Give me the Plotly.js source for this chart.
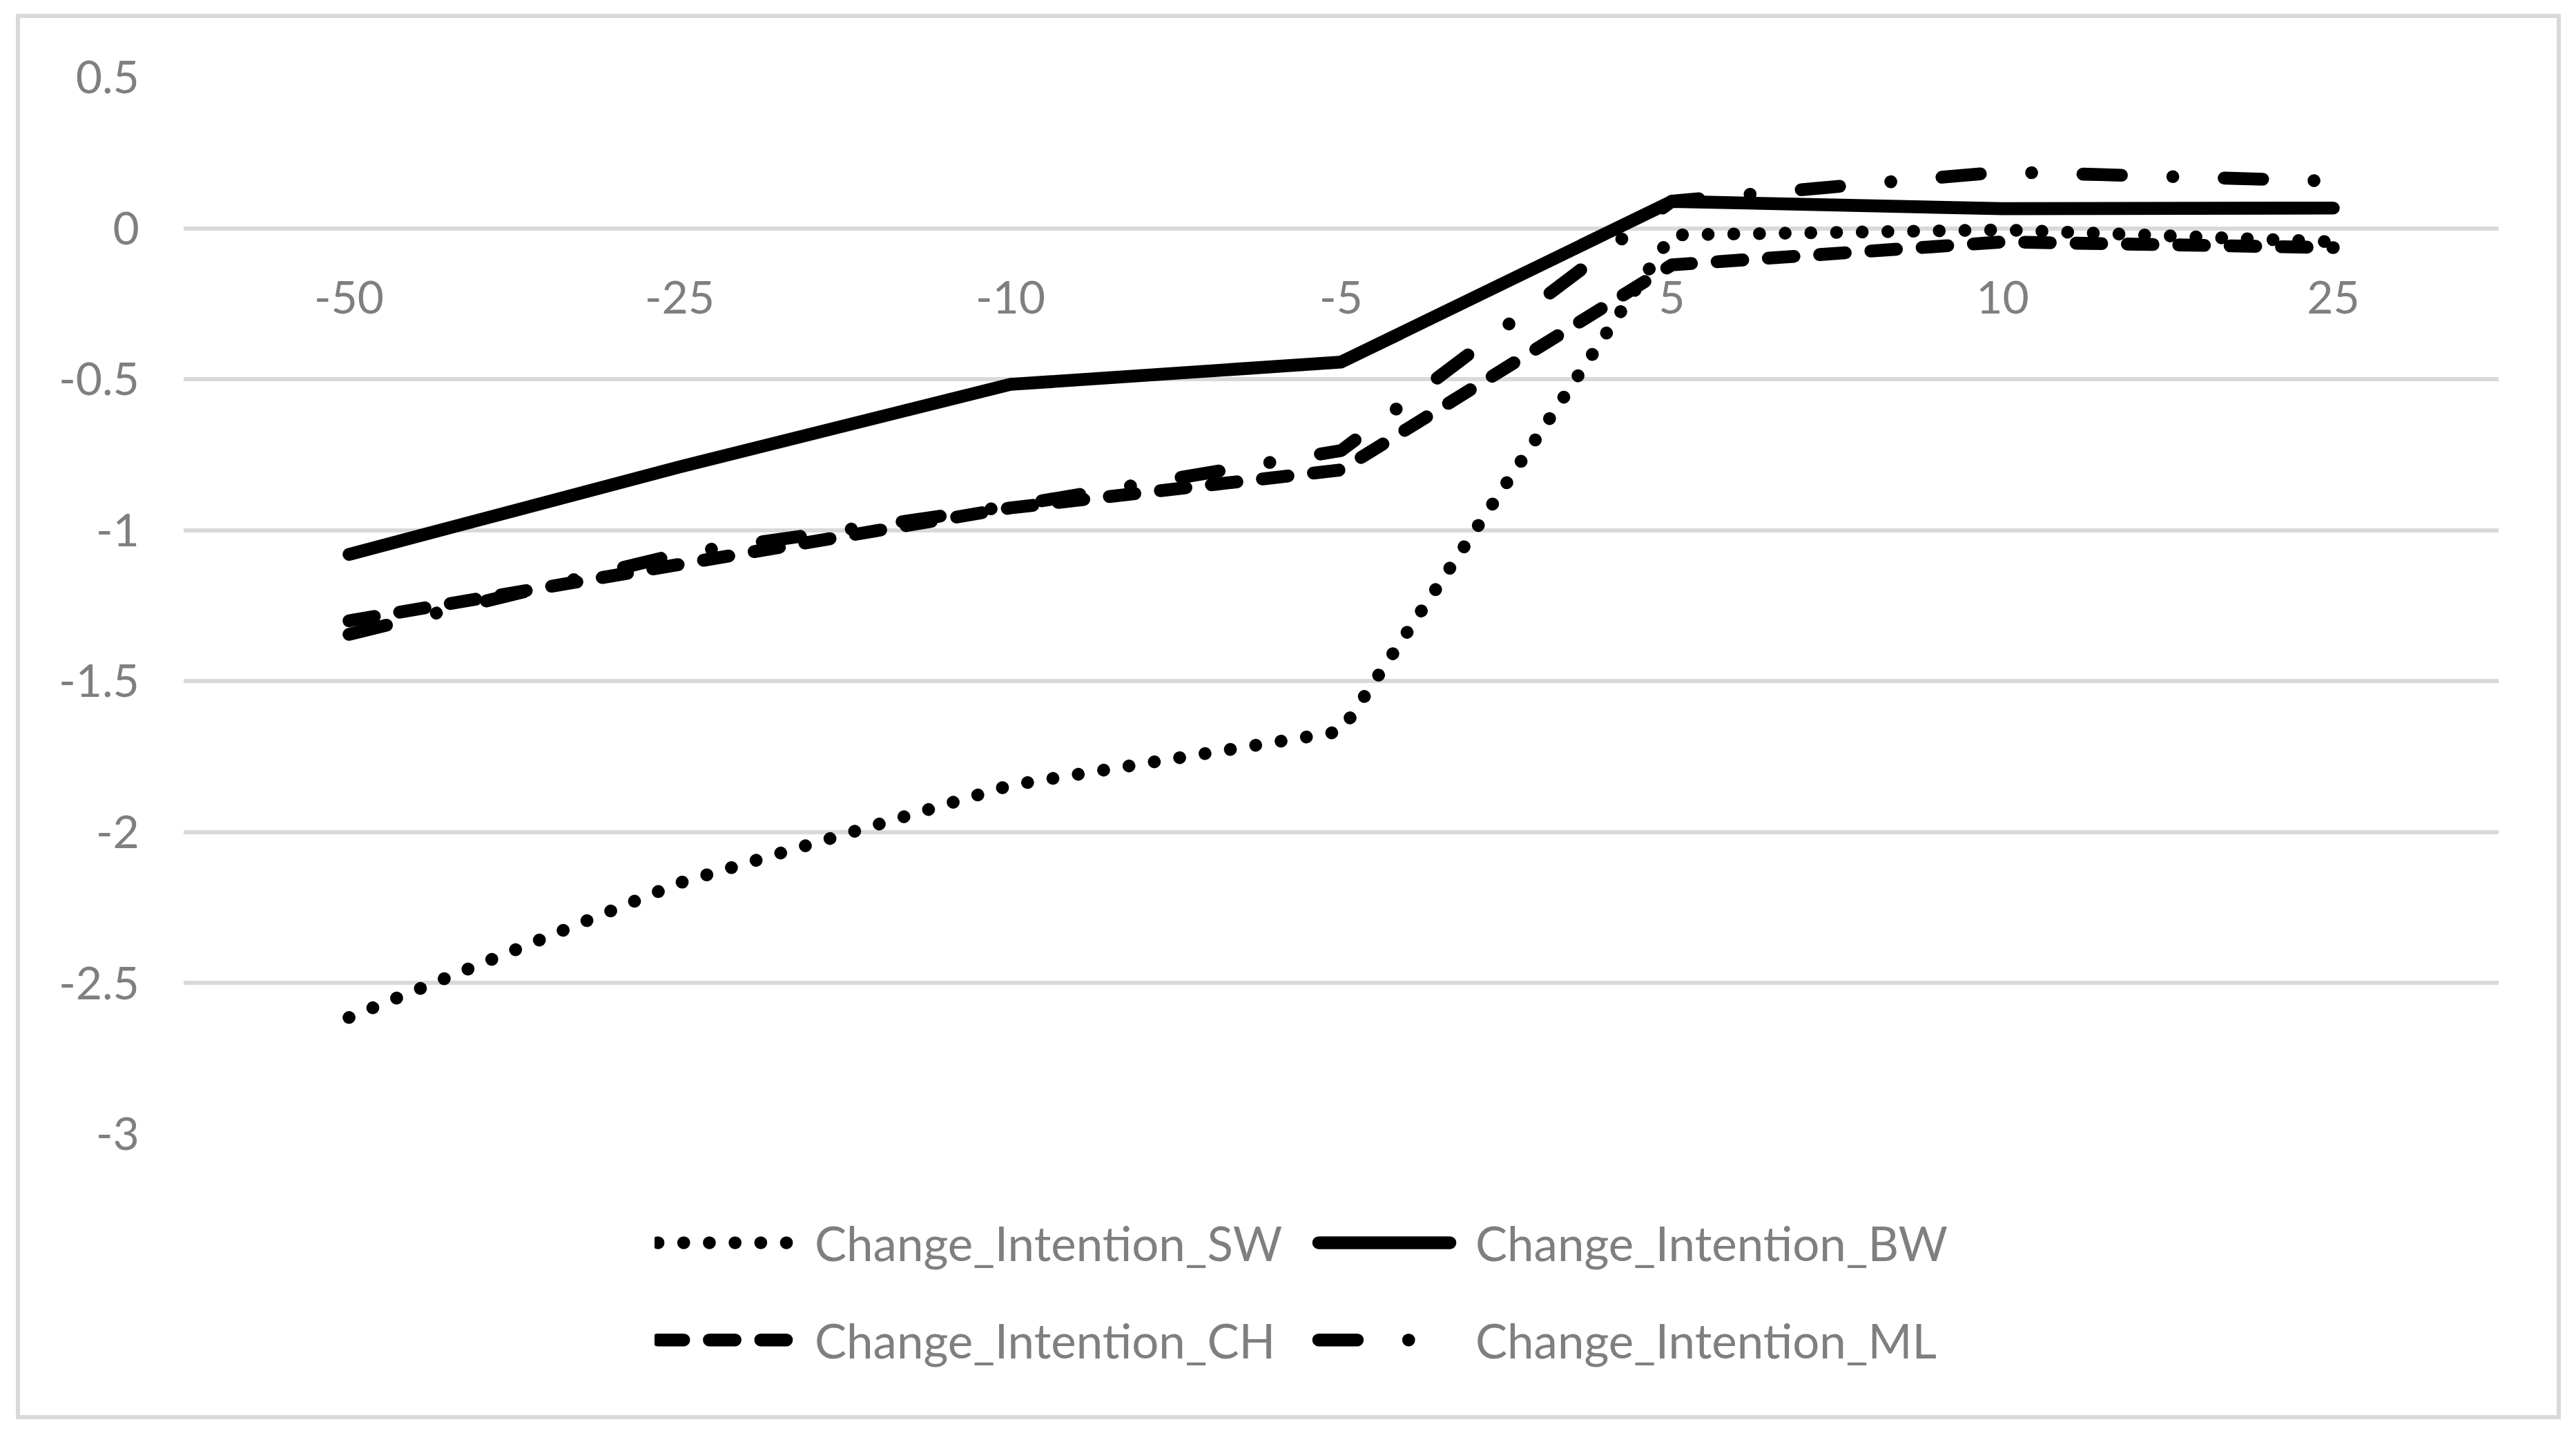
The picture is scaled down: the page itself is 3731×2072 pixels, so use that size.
<!DOCTYPE html>
<html><head><meta charset="utf-8">
<script src="https://cdn.plot.ly/plotly-3.0.1.min.js"></script>
<style>
html,body{margin:0;padding:0;background:#fff;}
#chart{width:3731px;height:2072px;}
.js-line{stroke-linecap:round;stroke-linejoin:round;}
.legendlines path{stroke-width:18.6px !important;}
.legendtext, .legend2text{transform:translateX(32px);}
</style></head><body><div id="chart"></div>
<script>
const categories = ['-50','-25','-10','-5','5','10','25'];
const seriesNames = ['Change_Intention_SW','Change_Intention_BW','Change_Intention_CH','Change_Intention_ML'];
const swValues = [-2.614,-2.168,-1.845,-1.666,-0.022,-0.005,-0.045];
const bwValues = [-1.08,-0.79,-0.517,-0.443,0.089,0.065,0.067];
const chValues = [-1.30,-1.112,-0.926,-0.80,-0.121,-0.045,-0.064];
const mlValues = [-1.345,-1.078,-0.92,-0.736,0.09,0.187,0.156];
const yTickVals = [0.5,0,-0.5,-1,-1.5,-2,-2.5,-3];
const yTickText = ['0.5','0','-0.5','-1','-1.5','-2','-2.5','-3'];

const FONT = 'Lato, "Open Sans", sans-serif';
const GRAY = '#7f7f7f';
const LW = 18.6;
const dashes = ['0.1px,37.1px', 'solid', '37.2px,37.2px', '55.8px,74.4px,0.1px,74.3px'];
const values = [swValues, bwValues, chValues, mlValues];
const legends = ['legend','legend','legend2','legend2'];

const traces = values.map((v,i) => ({
  type:'scatter', mode:'lines', x: categories, y: v, name: seriesNames[i],
  line:{color:'#000000', width: LW, dash: dashes[i]},
  legend: legends[i], hoverinfo:'skip'
}));

const legendCommon = {
  orientation:'h', xanchor:'left', yanchor:'middle',
  font:{family:FONT, size:69, color:GRAY},
  itemwidth:190, entrywidth:752, entrywidthmode:'pixels',
  bgcolor:'rgba(0,0,0,0)', borderwidth:0, traceorder:'normal'
};

const layout = {
  width:3731, height:2072,
  margin:{l:266, r:112, t:112, b:430, pad:0},
  paper_bgcolor:'#ffffff', plot_bgcolor:'#ffffff',
  showlegend:true,
  xaxis:{type:'category', range:[-0.5,6.5], anchor:'free', position:3/3.5,
    showgrid:false, showline:false, zeroline:false,
    ticks:'outside', ticklen:43, tickcolor:'rgba(0,0,0,0)',
    tickfont:{family:FONT, size:66, color:GRAY}, fixedrange:true},
  yaxis:{range:[-3,0.5], tickvals:yTickVals, ticktext:yTickText,
    showgrid:true, gridcolor:'#d9d9d9', gridwidth:6, zeroline:false, showline:false,
    ticks:'outside', ticklen:50, tickcolor:'rgba(0,0,0,0)',
    tickfont:{family:FONT, size:66, color:GRAY}, fixedrange:true},
  legend: Object.assign({}, legendCommon, {x:0.2034, y:-0.103}),
  legend2: Object.assign({}, legendCommon, {x:0.2034, y:-0.195}),
  shapes:[{type:'rect', xref:'paper', yref:'paper', x0:-0.07158, x1:1.02595, y0:-0.26797, y1:1.05817,
    line:{color:'#d9d9d9', width:6}, fillcolor:'rgba(0,0,0,0)', layer:'below'}]
};

Plotly.newPlot('chart', traces, layout, {staticPlot:true, displayModeBar:false});
</script></body></html>
